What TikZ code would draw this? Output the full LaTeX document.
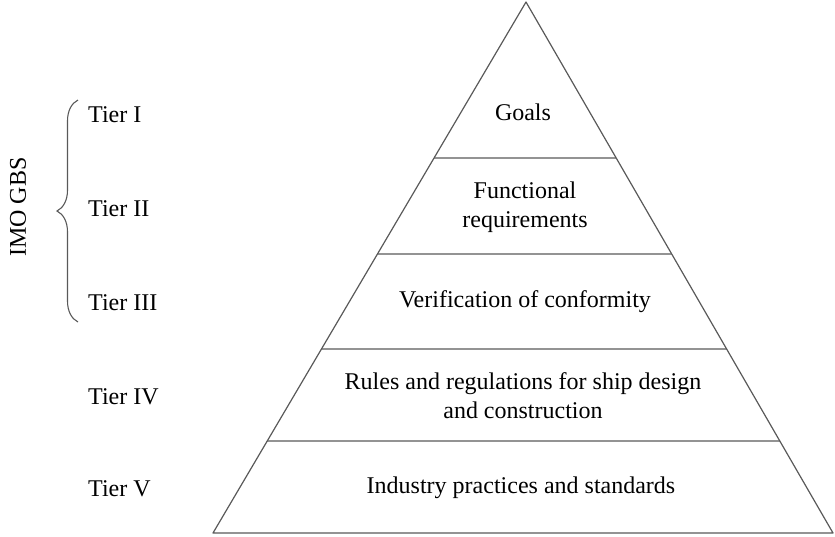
\documentclass[tikz,border=0pt]{standalone}
\usepackage{fontspec}
\setmainfont{Liberation Serif}
\usepackage{tikz}
\usetikzlibrary{calc, decorations.pathreplacing}
\definecolor{linha}{RGB}{89,89,89}

\begin{document}
\begin{tikzpicture}[x=1pt, y=-1pt, font=\fontsize{24}{29}\selectfont,
  camada/.style={align=center, inner sep=0pt},
  nivel/.style={anchor=west, inner sep=0pt},
  contorno/.style={draw=linha, line width=1.2pt, line join=round}]
\useasboundingbox (0,0) rectangle (835,536);  % mesma proporção da figura

% Pirâmide
\coordinate (topo) at (526,2);
\coordinate (esq) at (213,533);
\coordinate (dir) at (833,533);
\draw[contorno] (esq) -- (topo) -- (dir) -- cycle;

% Divisões entre as camadas
\foreach \y in {158, 254, 349, 441} {
  \draw[contorno] (intersection of esq--topo and 0,\y--835,\y)
    -- (intersection of dir--topo and 0,\y--835,\y);
}

% Textos das camadas
\node[camada] (metas) at (523,112) {Goals};
\node[camada] (funcional) at (525,207) {Functional\\requirements};
\node[camada] (verificacao) at (525,302) {Verification of conformity};
\node[camada] (regras) at (523,396) {Rules and regulations for ship design\\and construction};
\node[camada] (industria) at (521,488) {Industry practices and standards};

% Níveis
\node[nivel] (tierI) at (88,115) {Tier I};
\node[nivel] (tierII) at (88,209) {Tier II};
\node[nivel] (tierIII) at (88,303) {Tier III};
\node[nivel] (tierIV) at (88,397) {Tier IV};
\node[nivel] (tierV) at (88,489) {Tier V};

% Chave do IMO GBS
\coordinate (chaveBaixo) at (78,322);
\coordinate (chaveTopo) at (78,100);
\draw[draw=linha, line width=1.1pt, decorate, decoration={brace, amplitude=21pt}]
  (chaveBaixo) -- (chaveTopo);
\node[rotate=90] (imo) at (18,207) {IMO GBS};
\end{tikzpicture}
\end{document}
